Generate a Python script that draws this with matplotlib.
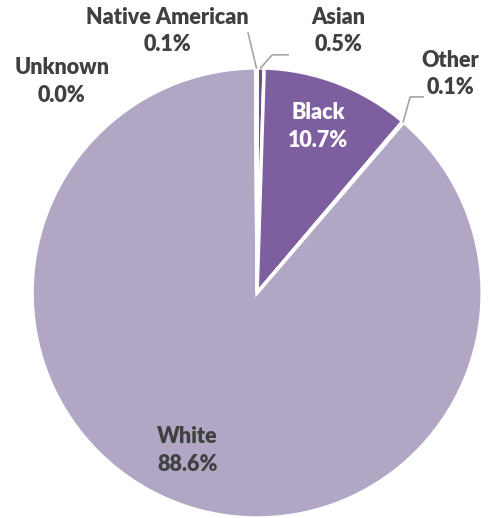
import numpy as np
import matplotlib
matplotlib.use('Agg')
from matplotlib import pyplot as plt

# race breakdown, clockwise from 12 o'clock
labels = ['Asian', 'Black', 'Other', 'White', 'Unknown', 'Native American']
values = [0.5, 10.7, 0.1, 88.6, 0.0, 0.1]
pct_text = ['0.5%', '10.7%', '0.1%', '88.6%', '0.0%', '0.1%']
colors = ['#6A5190', '#7D5FA0', '#C9C0D8', '#B1A7C5', '#D9D3E3', '#9B8AB8']

# label centres (data units, pie radius = 1)
label_pos = {
    'Asian': (0.36, 1.164),
    'Black': (0.27, 0.74),
    'Other': (0.86, 0.973),
    'White': (-0.31, -0.70),
    'Unknown': (-0.867, 0.938),
    'Native American': (-0.40, 1.164),
}
text_col = {'Black': 'white'}

plt.rcParams['font.family'] = ['Lato', 'DejaVu Sans']

fig = plt.figure(figsize=(4.93, 5.18), dpi=100)
ax = fig.add_axes([0.065, 0.0, 0.913, 0.869])

wedges, _ = ax.pie(values, colors=colors, startangle=90, counterclock=False,
                   wedgeprops=dict(edgecolor='white', linewidth=2.5))
ax.set_xlim(-1, 1)
ax.set_ylim(-1, 1)
ax.set_aspect('equal')
ax.axis('off')

for w, name, pct in zip(wedges, labels, pct_text):
    x, y = label_pos[name]
    ax.text(x, y, name + '\n' + pct, ha='center', va='center',
            fontsize=15.5, fontweight='heavy', linespacing=1.4,
            color=text_col.get(name, '#404040'))

# leader lines for the tiny slices
grey = '#A6A6A6'
def edge_pt(w):
    ang = np.deg2rad((w.theta1 + w.theta2) / 2)
    return np.cos(ang), np.sin(ang)

# Native American
x0, y0 = edge_pt(wedges[5])
ax.plot([x0, -0.04], [y0, 1.155], color=grey, lw=1.2, clip_on=False)
# Asian
x0, y0 = edge_pt(wedges[0])
ax.plot([x0, 0.067, 0.138], [y0, 1.058, 1.058], color=grey, lw=1.2, clip_on=False)
# Other
x0, y0 = edge_pt(wedges[2])
ax.plot([x0, 0.68, 0.738], [y0, 0.871, 0.871], color=grey, lw=1.2, clip_on=False)

fig.savefig('out.png', dpi=100)
